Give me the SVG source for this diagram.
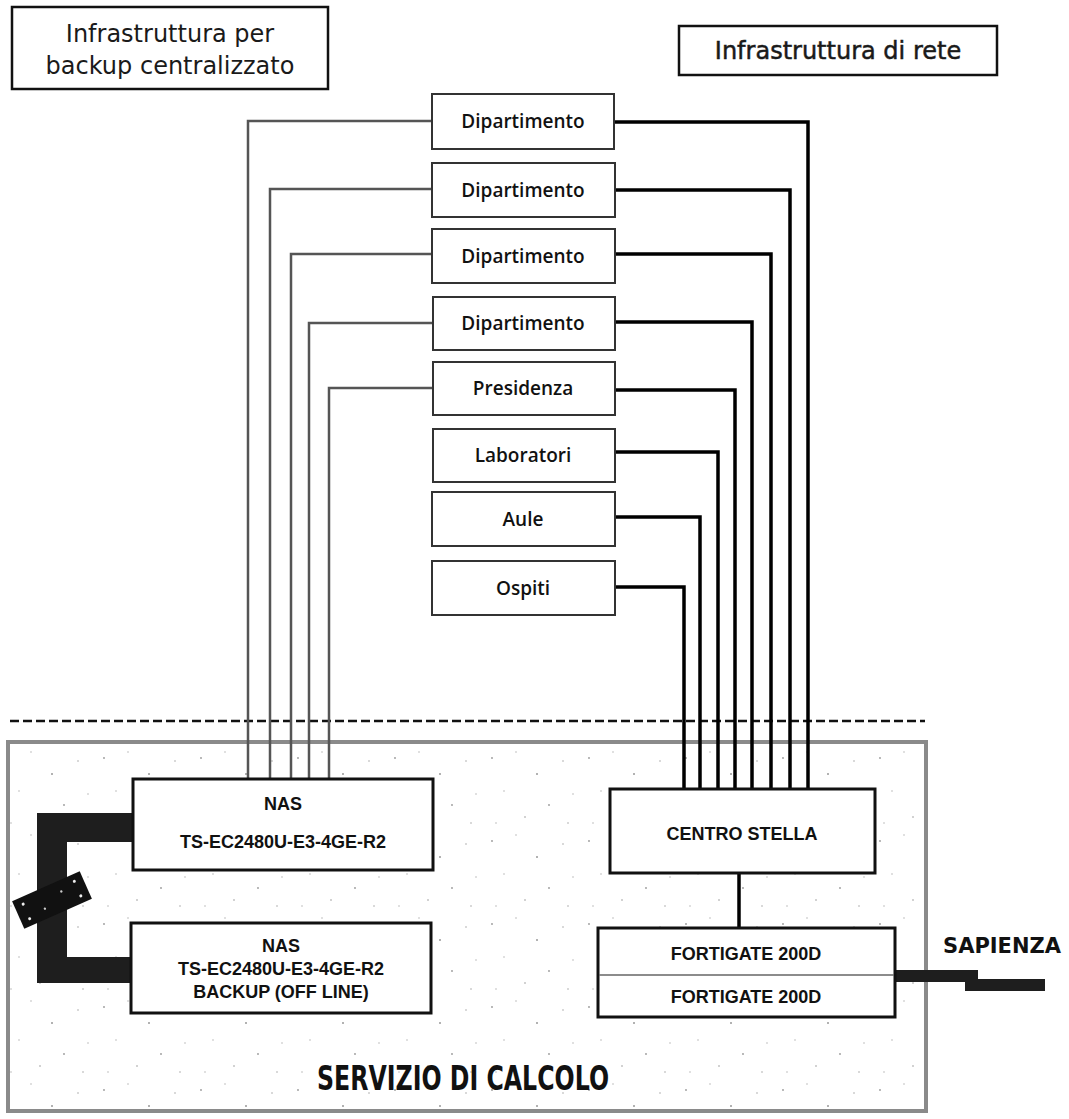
<svg xmlns="http://www.w3.org/2000/svg" width="1069" height="1119" viewBox="0 0 1069 1119">
<defs>
<style>
.title{fill:#fff;stroke:#111;stroke-width:2.5}
.ttxt{font-family:"DejaVu Sans","Open Sans",sans-serif;font-size:24px;fill:#1a1a1a;text-anchor:middle}
.dept{fill:#fff;stroke:#333;stroke-width:2}
.dtxt{font-family:"Open Sans","DejaVu Sans",sans-serif;font-size:19px;font-weight:600;fill:#111;text-anchor:middle}
.dev{fill:#fff;stroke:#111;stroke-width:3}
.devtxt{font-family:"Liberation Sans",Arial,sans-serif;font-size:18px;font-weight:bold;fill:#111;text-anchor:middle}
.lw{fill:none;stroke:#555;stroke-width:2.5}
.lb{fill:none;stroke:#000;stroke-width:3.5}
.dark{fill:#1e1e1e}
</style>
<pattern id="speckle" x="0" y="0" width="97" height="83" patternUnits="userSpaceOnUse">
<rect width="97" height="83" fill="#fff"/>
<circle cx="7" cy="11" r="0.9" fill="#999"/>
<circle cx="31" cy="5" r="0.7" fill="#aaa"/>
<circle cx="52" cy="27" r="1" fill="#999"/>
<circle cx="78" cy="14" r="0.8" fill="#aaa"/>
<circle cx="19" cy="44" r="0.7" fill="#aaa"/>
<circle cx="64" cy="58" r="0.9" fill="#999"/>
<circle cx="88" cy="47" r="0.7" fill="#aaa"/>
<circle cx="40" cy="70" r="0.8" fill="#999"/>
<circle cx="11" cy="76" r="0.7" fill="#aaa"/>
<circle cx="83" cy="76" r="0.8" fill="#aaa"/>
</pattern>
</defs>
<rect x="0" y="0" width="1069" height="1119" fill="#fff"/>

<g id="area-servizio">
<rect x="8" y="742" width="918" height="369" fill="url(#speckle)" stroke="#8a8a8a" stroke-width="4"/>
<text x="463" y="1090" font-family="'DejaVu Sans',sans-serif" font-size="33" font-weight="bold" fill="#111" text-anchor="middle" textLength="292" lengthAdjust="spacingAndGlyphs">SERVIZIO DI CALCOLO</text>
</g>

<line id="boundary" x1="10" y1="721" x2="925" y2="721" stroke="#111" stroke-width="2.5" stroke-dasharray="9 4"/>

<g id="title-backup">
<rect class="title" x="12" y="7" width="316" height="82"/>
<text class="ttxt" x="170" y="42">Infrastruttura per</text>
<text class="ttxt" x="170" y="74">backup centralizzato</text>
</g>
<g id="title-rete">
<rect class="title" x="679" y="26" width="318" height="49"/>
<text class="ttxt" x="838" y="59" stroke="#1a1a1a" stroke-width="0.5">Infrastruttura di rete</text>
</g>

<g id="connectors">
<path class="lw" d="M432,121 H248 V779" stroke="#777"/>
<path class="lw" d="M432,189 H270 V779"/>
<path class="lw" d="M432,254 H291 V779" stroke="#222"/>
<path class="lw" d="M432,323 H309 V779"/>
<path class="lw" d="M432,388 H329 V779"/>
<path class="lb" d="M614,122 H808 V789" stroke-width="2.5"/>
<path class="lb" d="M614,190 H790 V789"/>
<path class="lb" d="M614,254 H771 V789"/>
<path class="lb" d="M614,322 H752 V789"/>
<path class="lb" d="M614,390 H735 V789"/>
<path class="lb" d="M614,452 H718 V789"/>
<path class="lb" d="M614,517 H700 V789"/>
<path class="lb" d="M614,587 H684 V789"/>
<path class="lb" d="M739,873 V928" stroke-width="4.5"/>
<path class="dark" d="M37,813 H133 V842 H67 V957 H133 V983 H37 Z"/>
<g transform="translate(52,900) rotate(-24)">
<rect x="-37" y="-15" width="74" height="30" fill="#111"/>
<circle cx="-28" cy="-8" r="1.5" fill="#eee"/>
<circle cx="-28" cy="8" r="1.5" fill="#eee"/>
<circle cx="28" cy="-8" r="1.5" fill="#eee"/>
<circle cx="28" cy="8" r="1.5" fill="#eee"/>
<circle cx="-10" cy="5" r="1.2" fill="#ccc"/>
<circle cx="12" cy="-4" r="1.2" fill="#ccc"/>
</g>
<path class="dark" d="M895,970 H978 V979 H1045 V991 H965 V982 H895 Z"/>
</g>

<g id="dept-1"><rect class="dept" x="432" y="94" width="182" height="55"/><text class="dtxt" x="523" y="128">Dipartimento</text></g>
<g id="dept-2"><rect class="dept" x="432" y="163" width="183" height="54"/><text class="dtxt" x="523" y="197">Dipartimento</text></g>
<g id="dept-3"><rect class="dept" x="432" y="229" width="183" height="54"/><text class="dtxt" x="523" y="263">Dipartimento</text></g>
<g id="dept-4"><rect class="dept" x="433" y="297" width="182" height="53"/><text class="dtxt" x="523" y="330">Dipartimento</text></g>
<g id="presidenza"><rect class="dept" x="433" y="362" width="182" height="53"/><text class="dtxt" x="523" y="395">Presidenza</text></g>
<g id="laboratori"><rect class="dept" x="433" y="429" width="182" height="53"/><text class="dtxt" x="523" y="462">Laboratori</text></g>
<g id="aule"><rect class="dept" x="432" y="492" width="183" height="54"/><text class="dtxt" x="523" y="526">Aule</text></g>
<g id="ospiti"><rect class="dept" x="432" y="561" width="183" height="54"/><text class="dtxt" x="523" y="595">Ospiti</text></g>

<g id="nas">
<rect class="dev" x="133" y="779" width="300" height="91"/>
<text class="devtxt" x="283" y="810">NAS</text>
<text class="devtxt" x="283" y="848">TS-EC2480U-E3-4GE-R2</text>
</g>
<g id="nas-backup">
<rect class="dev" x="131" y="923" width="300" height="90"/>
<text class="devtxt" x="281" y="952">NAS</text>
<text class="devtxt" x="281" y="975">TS-EC2480U-E3-4GE-R2</text>
<text class="devtxt" x="281" y="998">BACKUP (OFF LINE)</text>
</g>
<g id="centro-stella">
<rect class="dev" x="610" y="789" width="265" height="84" stroke-width="4"/>
<text class="devtxt" x="742" y="840">CENTRO STELLA</text>
</g>
<g id="fortigate">
<rect class="dev" x="598" y="928" width="297" height="89"/>
<line x1="599" y1="975" x2="894" y2="975" stroke="#666" stroke-width="1.5"/>
<text class="devtxt" x="746" y="960">FORTIGATE 200D</text>
<text class="devtxt" x="746" y="1003">FORTIGATE 200D</text>
</g>
<g id="sapienza">
<text x="1002" y="953" font-family="'DejaVu Sans',sans-serif" font-size="21" font-weight="bold" fill="#111" text-anchor="middle" textLength="118" lengthAdjust="spacingAndGlyphs">SAPIENZA</text>
</g>
</svg>
